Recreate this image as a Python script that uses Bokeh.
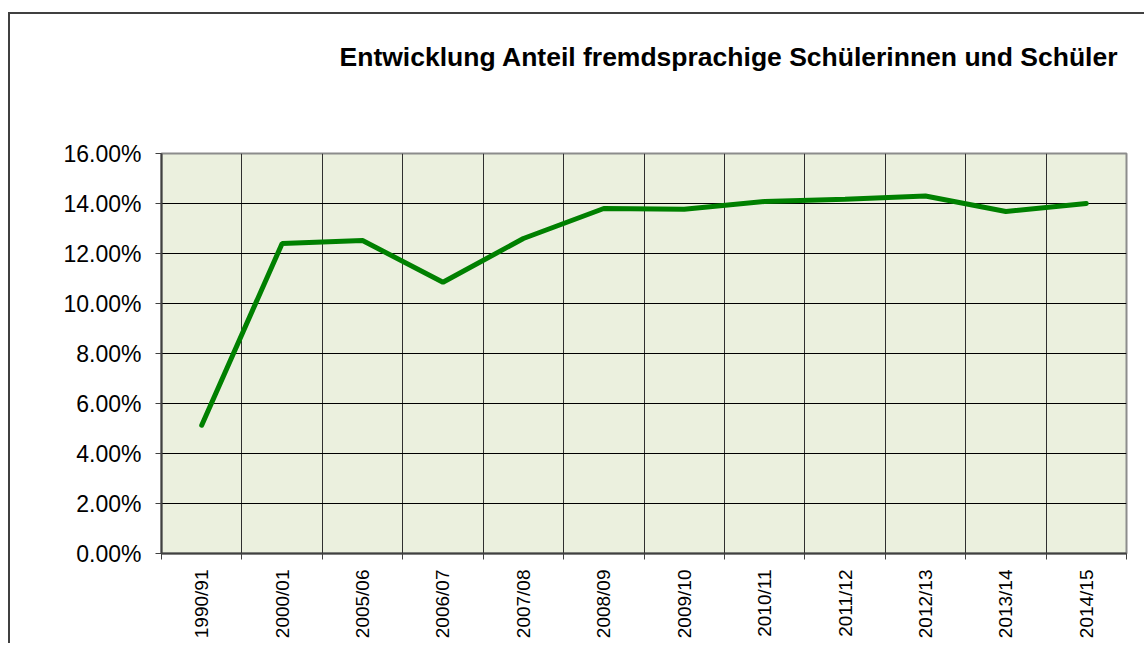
from bokeh.plotting import figure
from bokeh.models import Range1d, FixedTicker, NumeralTickFormatter, Title
from bokeh.embed import file_html
from bokeh.resources import INLINE

title_text = "Entwicklung Anteil fremdsprachige Schülerinnen und Schüler"
categories = ["1990/91", "2000/01", "2005/06", "2006/07", "2007/08", "2008/09",
              "2009/10", "2010/11", "2011/12", "2012/13", "2013/14", "2014/15"]
values = [0.0513, 0.1240, 0.1252, 0.1085, 0.1260, 0.1380,
          0.1377, 0.1408, 0.1417, 0.1430, 0.1368, 0.1400]
y_ticks = [0.0, 0.02, 0.04, 0.06, 0.08, 0.10, 0.12, 0.14, 0.16]

n = len(categories)
xs = [i + 0.5 for i in range(n)]

p = figure(width=1136, height=631, output_backend="svg", toolbar_location=None,
           x_range=Range1d(0, n), y_range=Range1d(0, 0.16),
           min_border_left=151, min_border_right=20, min_border_top=139,
           min_border_bottom=92)
p.margin = (12, 0, 0, 8)
p.styles = {"border-left": "2px solid #404040", "border-top": "2px solid #404040"}

p.background_fill_color = "#EBF0DE"
p.border_fill_color = "white"
p.outline_line_color = "#8c8c8c"
p.outline_line_width = 2

# title (outermost) and a spacer between it and the frame
p.title.text = title_text
p.title.align = "right"
p.title.offset = 8
p.title.vertical_align = "middle"
p.title.standoff = 10
p.title.text_font = "Liberation Sans"
p.title.text_font_style = "bold"
p.title.text_font_size = "26.5px"
p.title.text_color = "black"
spacer = Title(text=" ", text_font_size="1px", standoff=73)
p.add_layout(spacer, "above")

# grids
p.xgrid.ticker = FixedTicker(ticks=list(range(1, n)))
p.xgrid.grid_line_color = "#303030"
p.xgrid.grid_line_width = 1
p.ygrid.ticker = FixedTicker(ticks=y_ticks)
p.ygrid.grid_line_color = "black"
p.ygrid.grid_line_width = 1

# x axis
p.xaxis.ticker = FixedTicker(ticks=xs, minor_ticks=list(range(0, n + 1)))
p.xaxis.major_label_overrides = {x: c for x, c in zip(xs, categories)}
p.xaxis.major_label_orientation = 1.5707963267948966
p.xaxis.major_tick_line_color = None
p.xaxis.minor_tick_line_color = "#404040"
p.xaxis.minor_tick_line_width = 1
p.xaxis.minor_tick_in = 0
p.xaxis.minor_tick_out = 6
p.xaxis.axis_line_color = "#404040"
p.xaxis.axis_line_width = 2
p.xaxis.major_label_standoff = 10
p.xaxis.major_label_text_font = "Liberation Sans"
p.xaxis.major_label_text_font_size = "19px"
p.xaxis.major_label_text_color = "black"

# y axis
p.yaxis.ticker = FixedTicker(ticks=y_ticks)
p.yaxis.formatter = NumeralTickFormatter(format="0.00%")
p.yaxis.minor_tick_line_color = None
p.yaxis.major_tick_line_color = "#404040"
p.yaxis.major_tick_in = 0
p.yaxis.major_tick_out = 6
p.yaxis.axis_line_color = "#404040"
p.yaxis.axis_line_width = 2
p.yaxis.major_label_standoff = 14
p.yaxis.major_label_text_font = "Liberation Sans"
p.yaxis.major_label_text_font_size = "23px"
p.yaxis.major_label_text_color = "black"

p.line(xs, values, line_color="#008000", line_width=5, line_cap="round")

open("out.html", "w").write(file_html(p, INLINE))
